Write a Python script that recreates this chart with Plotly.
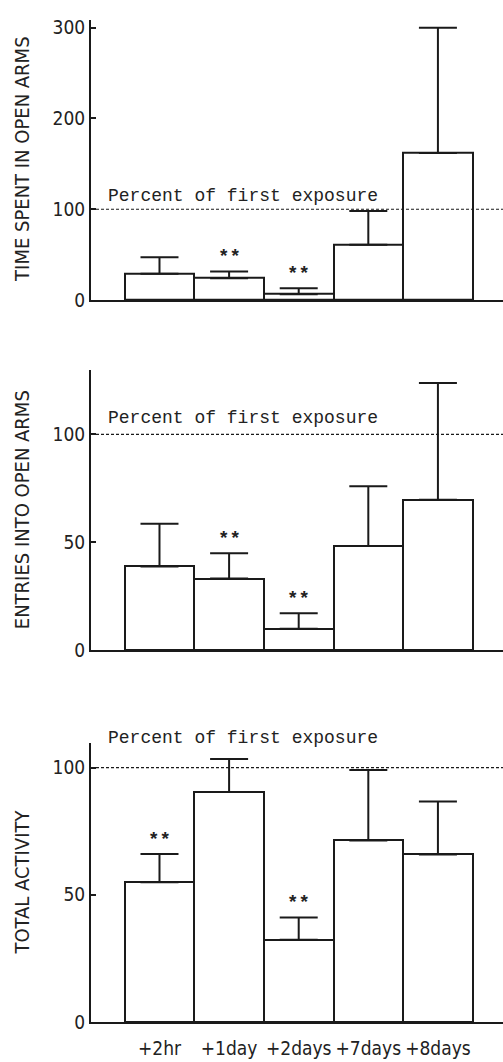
import plotly.graph_objects as go

categories = ["+2hr", "+1day", "+2days", "+7days", "+8days"]

time_vals = [29, 24, 6.5, 61, 162]
time_err_top = [47, 31.5, 13, 98, 300]
time_stars = [False, True, True, False, False]

entries_vals = [38.8, 33.2, 10, 48.3, 69.7]
entries_err_top = [58.6, 44.9, 17.2, 76, 123.7]
entries_stars = [False, True, True, False, False]

activity_vals = [54.9, 90.4, 32.3, 71.3, 65.8]
activity_err_top = [66, 103.4, 41.1, 99, 86.7]
activity_stars = [True, False, True, False, False]

panels = [
    dict(vals=time_vals, err=time_err_top, stars=time_stars, title="TIME SPENT IN OPEN ARMS",
         yrange=[0, 308.7], ticks=[0, 100, 200, 300], dom=[1 - 301 / 1062, 1 - 17 / 1062], label_px=196),
    dict(vals=entries_vals, err=entries_err_top, stars=entries_stars, title="ENTRIES INTO OPEN ARMS",
         yrange=[0, 129.7], ticks=[0, 50, 100], dom=[1 - 656 / 1062, 1 - 372 / 1062], label_px=421),
    dict(vals=activity_vals, err=activity_err_top, stars=activity_stars, title="TOTAL ACTIVITY",
         yrange=[0, 109.6], ticks=[0, 50, 100], dom=[1 - 1032.7 / 1062, 1 - 750 / 1062], label_px=745),
]

fig = go.Figure()
xpos = list(range(len(categories)))
tickfont = dict(family="DejaVu Sans Condensed", size=19, color="#222")
monofont = dict(family="Liberation Mono", size=18, color="#222")

annotations = []
shapes = []
for i, p in enumerate(panels):
    n = "" if i == 0 else str(i + 1)
    fig.add_trace(go.Bar(
        x=xpos, y=p["vals"], width=1.0,
        marker=dict(color="white", line=dict(color="#1a1a1a", width=2)),
        error_y=dict(type="data", symmetric=False,
                     array=[e - v for e, v in zip(p["err"], p["vals"])],
                     arrayminus=[0] * len(p["vals"]),
                     color="#1a1a1a", thickness=2, width=19),
        xaxis="x" + n, yaxis="y" + n, showlegend=False, hoverinfo="skip",
    ))
    xa = dict(domain=[0, 1], range=[-0.984, 4.935], anchor="y" + n,
              showline=True, linecolor="#1a1a1a", linewidth=2, showgrid=False, zeroline=False,
              tickvals=xpos, ticktext=categories if i == 2 else [""] * 5, ticks="",
              ticklabelstandoff=8,
              tickfont=dict(family="DejaVu Sans Condensed", size=19, color="#222"), fixedrange=True)
    ya = dict(domain=p["dom"], range=p["yrange"], anchor="x" + n,
              showline=True, linecolor="#1a1a1a", linewidth=2, showgrid=False, zeroline=False,
              tickvals=p["ticks"], ticks="inside", ticklen=5, tickwidth=1.5, tickcolor="#1a1a1a",
              tickfont=tickfont, fixedrange=True)
    fig.update_layout(**{"xaxis" + n: xa, "yaxis" + n: ya})
    shapes.append(dict(type="line", xref="x" + n + " domain", yref="y" + n, x0=0, x1=1, y0=100, y1=100,
                       line=dict(color="#1a1a1a", width=1.2, dash="3px,2px")))
    annotations.append(dict(text="Percent of first exposure", xref="paper", yref="paper",
                            x=(106 - 91) / 412, y=1 - p["label_px"] / 1062, xanchor="left", yanchor="middle",
                            showarrow=False, font=monofont))
    annotations.append(dict(text=p["title"], xref="paper", yref="paper", textangle=-90,
                            x=(22 - 91) / 412, y=(p["dom"][0] + p["dom"][1]) / 2, xanchor="center",
                            yanchor="middle", showarrow=False,
                            font=dict(family="DejaVu Sans Condensed", size=20, color="#222")))
    for j, s in enumerate(p["stars"]):
        if s:
            annotations.append(dict(text="<b>**</b>", x=j, y=p["err"][j], xref="x" + n, yref="y" + n,
                                    yshift=14, showarrow=False, yanchor="middle",
                                    font=dict(family="Liberation Mono", size=19, color="#222")))

fig.update_layout(width=503, height=1062, margin=dict(l=91, r=0, t=0, b=0),
                  paper_bgcolor="white", plot_bgcolor="white", bargap=0,
                  annotations=annotations, shapes=shapes)

fig.write_html("out.html")
